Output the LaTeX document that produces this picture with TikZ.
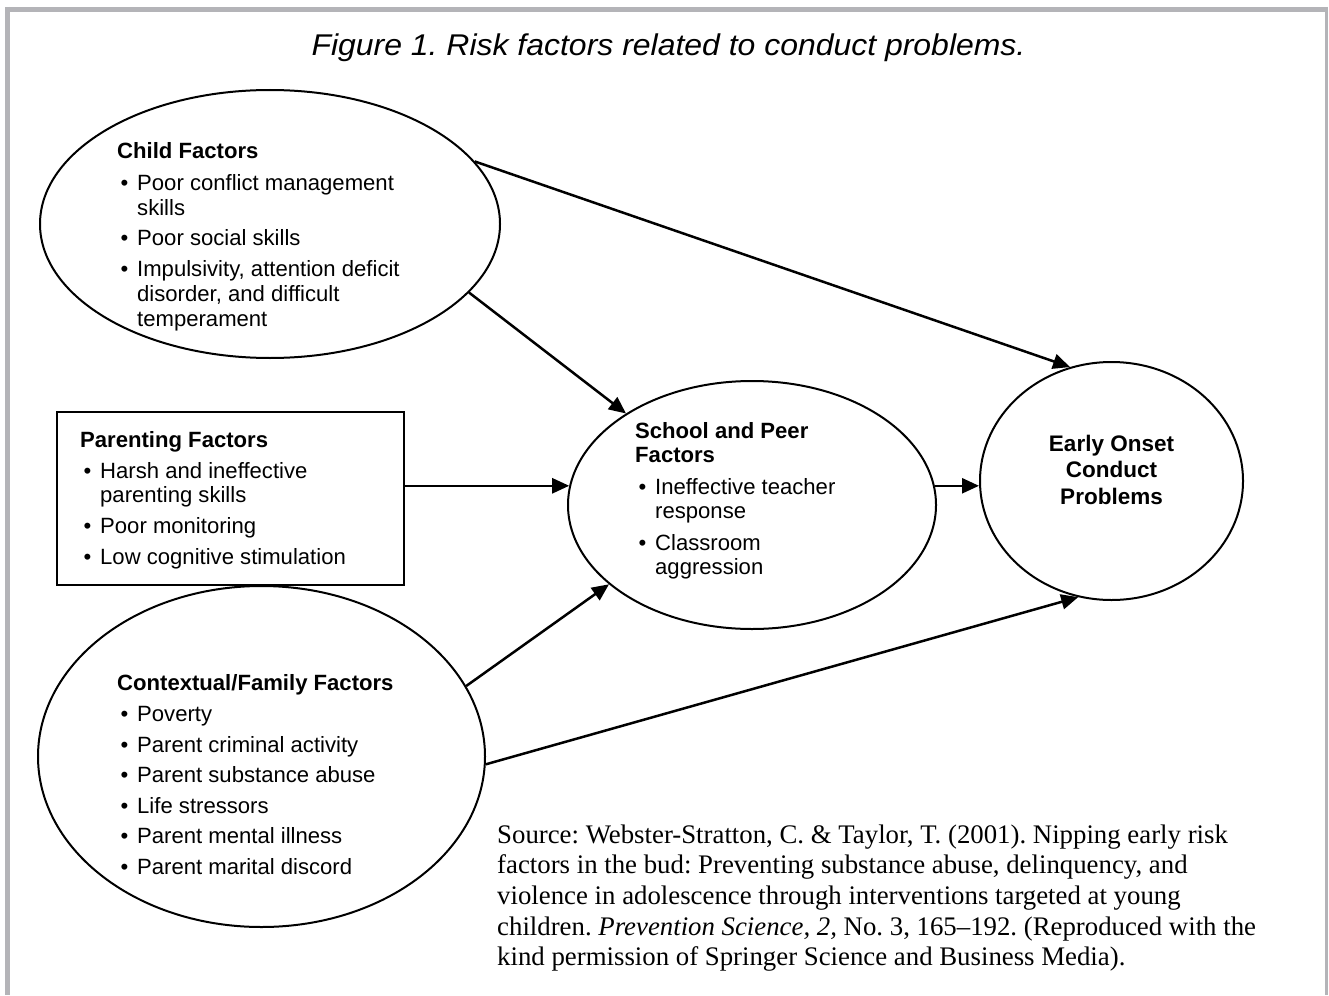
\documentclass[tikz,border=0pt]{standalone}
\usepackage{fontspec}
\setmainfont{Liberation Serif}
\newfontfamily\arialf{Liberation Sans}
\usetikzlibrary{shapes.geometric,arrows.meta}
\definecolor{bordergray}{RGB}{180,180,184}
\newcommand\fbul{\makebox[20pt][l]{\hspace{3.5pt}•}}
\newcommand\fcont{\hspace*{20pt}}
\frenchspacing
\begin{document}
\begin{tikzpicture}[x=1pt,y=-1pt,
  oval/.style={ellipse, draw, line width=2pt, inner sep=0pt},
  boxnode/.style={draw, line width=2pt, inner sep=0pt},
  arr/.style={line width=2.5pt, -{Triangle[length=17pt,width=15pt]}},
  body/.style={font=\arialf\fontsize{22.1}{24.5}\selectfont, anchor=base west, inner sep=0pt},
  bold/.style={font=\arialf\bfseries\fontsize{22.5}{26.5}\selectfont, anchor=base, inner sep=0pt},
  title/.style={font=\arialf\itshape\fontsize{30}{36}\selectfont, anchor=base, inner sep=0pt},
  src/.style={font=\fontsize{26.8}{30.7}\selectfont, anchor=base west, inner sep=0pt}]
\useasboundingbox (0,0) rectangle (1329,995);
\fill[white] (0,0) rectangle (1329,995);
% border
\draw[bordergray, line width=5pt] (5,9.5) -- (1328,9.5);
\draw[bordergray, line width=5pt] (7.5,7) -- (7.5,995);
\draw[bordergray, line width=3pt] (1326.5,7) -- (1326.5,995);
% title
\node[title] (ttl) at (668.5,56) {\scalebox{1.065}[1]{Figure 1. Risk factors related to conduct problems.}};
% shapes
\node[oval, minimum width=460pt, minimum height=268pt] (child) at (270,224) {};
\node[oval, minimum width=447pt, minimum height=341pt] (context) at (261.5,756.5) {};
\node[oval, minimum width=368pt, minimum height=248pt] (school) at (752,505) {};
\node[oval, minimum width=263pt, minimum height=238pt] (early) at (1111.5,481) {};
\node[boxnode, minimum width=347pt, minimum height=173pt] (parent) at (230.5,498.5) {};
% texts
\node[body] (childtxt) at (117,159) {\begin{tabular}[t]{@{}l@{}}\textbf{Child Factors}\\[7pt]
\fbul Poor conflict management\\
\fcont skills\\[6.5pt]
\fbul Poor social skills\\[6.5pt]
\fbul Impulsivity, attention deficit\\
\fcont disorder, and difficult\\
\fcont temperament\end{tabular}};
\node[body] (parenttxt) at (80,447) {\begin{tabular}[t]{@{}l@{}}\textbf{Parenting Factors}\\[6.5pt]
\fbul Harsh and ineffective\\
\fcont parenting skills\\[6.5pt]
\fbul Poor monitoring\\[6.5pt]
\fbul Low cognitive stimulation\end{tabular}};
\node[body] (contexttxt) at (117,690) {\begin{tabular}[t]{@{}l@{}}\textbf{Contextual/Family Factors}\\[7pt]
\fbul Poverty\\[6pt]
\fbul Parent criminal activity\\[6pt]
\fbul Parent substance abuse\\[6pt]
\fbul Life stressors\\[6pt]
\fbul Parent mental illness\\[6pt]
\fbul Parent marital discord\end{tabular}};
\node[body] (schooltxt) at (635,438) {\begin{tabular}[t]{@{}l@{}}\textbf{School and Peer}\\
\textbf{Factors}\\[7pt]
\fbul Ineffective teacher\\
\fcont response\\[7pt]
\fbul Classroom\\
\fcont aggression\end{tabular}};
\node[bold] (earlytxt) at (1111.5,451) {\begin{tabular}[t]{@{}c@{}}Early Onset\\Conduct\\Problems\end{tabular}};
\node[src] (source) at (497,843) {\begin{tabular}[t]{@{}l@{}}Source: Webster-Stratton, C. \& Taylor, T. (2001). Nipping early risk\\
factors in the bud: Preventing substance abuse, delinquency, and\\
violence in adolescence through interventions targeted at young\\
children. \textit{Prevention Science, 2,} No. 3, 165–192. (Reproduced with the\\
kind permission of Springer Science and Business Media).\end{tabular}};
% arrows
\draw[arr] (child.17.7) -- (early.110);
\draw[arr] (child.-19.2) -- (school.144.5);
\draw[arr] (parent.east |- school.174) -- (school.174);
\draw[arr] (context.19.5) -- (school.-151);
\draw[arr] (context.-2.7) -- (early.-106);
\draw[arr] (school.6) -- (school.6 -| early.west);
\end{tikzpicture}
\end{document}
